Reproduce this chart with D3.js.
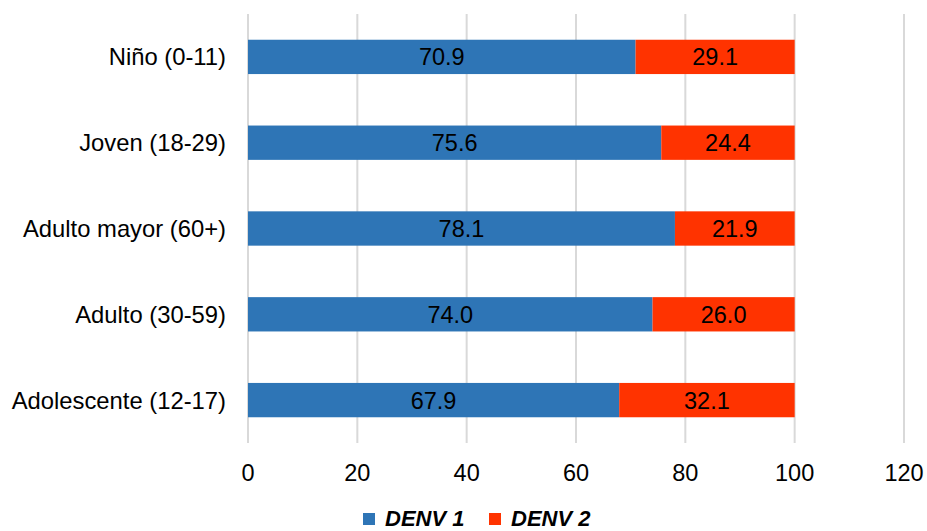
<!DOCTYPE html>
<html>
<head>
<meta charset="utf-8">
<script src="https://cdn.jsdelivr.net/npm/d3@7"></script>
<style>
  body { margin: 0; background: #fff; }
  text { font-family: "Liberation Sans", Arial, sans-serif; }
</style>
</head>
<body>
<svg id="chart" width="927" height="531"></svg>
<script>
let width = 927;
let height = 531;
let margins = {top: 14, bottom: 88, left: 248, right: 23};

const groups = ["Niño (0-11)", "Joven (18-29)", "Adulto mayor (60+)", "Adulto (30-59)", "Adolescente (12-17)"];
const denv1 = [70.9, 75.6, 78.1, 74.0, 67.9];
const denv2 = [29.1, 24.4, 21.9, 26.0, 32.1];
const seriesNames = ["DENV 1", "DENV 2"];
const colors = ["#2E75B6", "#FF3300"];
const xTicks = [0, 20, 40, 60, 80, 100, 120];

const rows = groups.map((g, i) => ({group: g, "DENV 1": denv1[i], "DENV 2": denv2[i]}));
const stacked = d3.stack().keys(seriesNames)(rows);

const svg = d3.select("#chart");

const x = d3.scaleLinear()
	.domain([0, 120])
	.range([margins.left, width - margins.right]);

const y = d3.scaleBand()
	.domain(groups)
	.range([margins.top, height - margins.bottom])
	.paddingInner(0.6)
	.paddingOuter(0.3);

// gridlines
svg.append("g")
	.selectAll("line")
	.data(xTicks).enter()
	.append("line")
	.attr("x1", d => x(d))
	.attr("x2", d => x(d))
	.attr("y1", margins.top)
	.attr("y2", height - margins.bottom)
	.attr("stroke", "#D9D9D9")
	.attr("stroke-width", 2);

// bars
const layer = svg.append("g")
	.selectAll("g")
	.data(stacked).enter()
	.append("g")
	.attr("fill", (d, i) => colors[i]);

layer.selectAll("rect")
	.data(d => d).enter()
	.append("rect")
	.attr("x", d => x(d[0]))
	.attr("width", d => x(d[1]) - x(d[0]))
	.attr("y", d => y(d.data.group))
	.attr("height", y.bandwidth());

layer.selectAll("text")
	.data(d => d.map(p => ({p: p, v: p[1] - p[0]}))).enter()
	.append("text")
	.attr("x", d => (x(d.p[0]) + x(d.p[1])) / 2)
	.attr("y", d => y(d.p.data.group) + y.bandwidth() / 2 + 8.5)
	.attr("text-anchor", "middle")
	.attr("font-size", 23.5)
	.attr("fill", "#000")
	.text(d => d.v.toFixed(1));

// category labels
svg.append("g")
	.selectAll("text")
	.data(groups).enter()
	.append("text")
	.attr("x", margins.left - 22)
	.attr("y", d => y(d) + y.bandwidth() / 2 + 8.5)
	.attr("text-anchor", "end")
	.attr("font-size", 23.8)
	.attr("fill", "#000")
	.text(d => d);

// x tick labels
svg.append("g")
	.selectAll("text")
	.data(xTicks).enter()
	.append("text")
	.attr("x", d => x(d))
	.attr("y", 481)
	.attr("text-anchor", "middle")
	.attr("font-size", 23.5)
	.attr("fill", "#000")
	.text(d => d);

// legend
const legendX = [363, 489];
const legend = svg.append("g")
	.selectAll("g")
	.data(seriesNames).enter()
	.append("g")
	.attr("transform", (d, i) => `translate(${legendX[i]}, 513)`);

legend.append("rect")
	.attr("width", 12)
	.attr("height", 12)
	.attr("fill", (d, i) => colors[i]);

legend.append("text")
	.attr("x", 22)
	.attr("y", 13)
	.attr("font-size", 22)
	.attr("font-weight", "bold")
	.attr("font-style", "italic")
	.attr("fill", "#000")
	.text(d => d);
</script>
</body>
</html>
